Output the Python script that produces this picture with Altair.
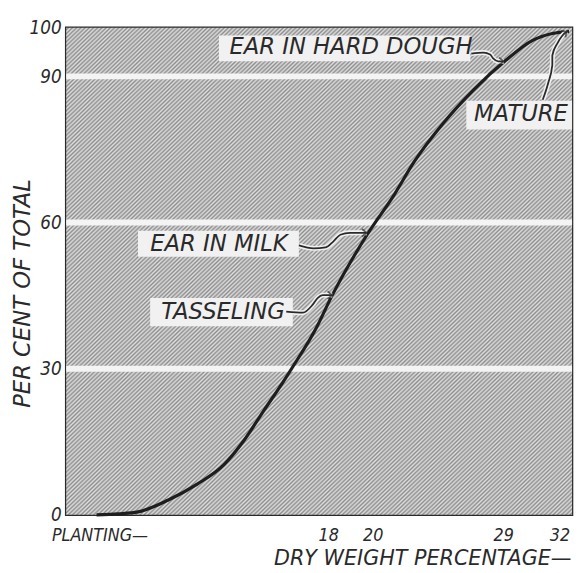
import altair as alt
import pandas as pd

# ---- data ----
stage = [6, 10.3, 14.2, 20.1, 25.9, 31.2, 35.1, 39.0, 42.9, 44.8, 49.3, 52.6,
         59.6, 64.9, 68.8, 74.7, 80.5, 86.9, 92.2, 96.1, 99.4]
percent = [0, 0.2, 0.6, 3.0, 6.3, 10.3, 15.2, 21.3, 27.3, 30.4, 38.1, 45.1,
           57.7, 65.8, 72.5, 80.6, 87.2, 93.3, 97.4, 98.8, 99.2]

domain = [0, 100]
x_tick_pos = [0, 51.8, 60.6, 86.4, 97.5]
x_tick_labels = ["PLANTING\u2014", "18", "20", "29", "32"]
y_ticks = [0, 30, 60, 90, 100]
grid_lines = [30, 60, 90]

ann_labels = ["EAR IN HARD DOUGH", "MATURE", "EAR IN MILK", "TASSELING"]
ann_x = [56.3, 89.9, 30.2, 31.0]
ann_y = [96.0, 82.2, 55.6, 41.7]
box_x1 = [30.2, 79.1, 14.2, 16.6]
box_x2 = [79.9, 100.0, 46.0, 44.8]
box_y1 = [93.1, 79.1, 53.0, 38.7]
box_y2 = [98.4, 85.0, 58.3, 44.5]

arrow_id = ["dough"] * 6 + ["mature"] * 7 + ["milk"] * 7 + ["tassel"] * 6
arrow_x = [80.1, 82.5, 83.8, 84.4, 85.4, 86.5,
           94.2, 95.3, 96.1, 96.1, 97.1, 98.1, 99.0,
           46.0, 48.9, 51.3, 52.8, 54.2, 56.1, 59.4,
           43.5, 46.8, 48.7, 49.7, 50.7, 52.6]
arrow_y = [94.7, 94.9, 94.5, 93.7, 93.1, 93.1,
           85.2, 88.7, 92.3, 94.3, 96.8, 98.4, 99.2,
           55.3, 54.7, 54.9, 56.1, 57.5, 57.9, 57.9,
           41.7, 41.5, 43.1, 44.5, 45.1, 45.1]
head_x = [86.5, 99.0, 59.4, 52.6]
head_y = [93.1, 99.2, 57.9, 45.1]
head_angle = [0, 325, 0, 0]

FONT_NARROW = "DejaVu Sans Condensed, Liberation Sans Narrow, DejaVu Sans"
FONT = "DejaVu Sans"
INK = "#2a2a2a"

curve_df = pd.DataFrame({"stage": stage, "percent": percent})
grid_df = pd.DataFrame({"g": grid_lines})
ann_df = pd.DataFrame({"label": ann_labels, "x": ann_x, "y": ann_y,
                       "x1": box_x1, "x2": box_x2, "y1": box_y1, "y2": box_y2})
arrow_df = pd.DataFrame({"id": arrow_id, "x": arrow_x, "y": arrow_y,
                         "order": list(range(len(arrow_x)))})
head_df = pd.DataFrame({"x": head_x, "y": head_y, "angle": head_angle})
bg_df = pd.DataFrame({"x1": [domain[0]], "x2": [domain[1]],
                      "y1": [domain[0]], "y2": [domain[1]]})

xs = alt.Scale(domain=domain, nice=False, zero=False)
ys = alt.Scale(domain=domain, nice=False, zero=False)

label_expr = " : ".join(
    f"datum.value == {p} ? '{t}'" for p, t in zip(x_tick_pos, x_tick_labels)
) + " : ''"

x_axis = alt.Axis(
    values=x_tick_pos, labelExpr=label_expr, title="DRY WEIGHT PERCENTAGE\u2014",
    grid=False, domain=False, ticks=False, labelFlush=True,
    labelOffset={"condition": {"test": "datum.value == 0", "value": -15}, "value": 0},
    labelPadding=12, labelFontSize=18, labelFont=FONT_NARROW, labelFontStyle="italic",
    labelColor=INK, labelOverlap=False,
    titleFont=FONT, titleFontSize=21, titleFontStyle="italic", titleFontWeight="normal",
    titleColor=INK, titleX=512, titleY=44, titleAlign="right", titleBaseline="middle",
)
y_axis = alt.Axis(
    values=y_ticks, title="PER CENT OF TOTAL", grid=False, domain=False,
    ticks=False, labelPadding=5, labelFontSize=19, labelFont=FONT_NARROW,
    labelFontStyle="italic", labelColor=INK,
    titleFont=FONT, titleFontSize=23, titleFontStyle="italic", titleFontWeight="normal",
    titleColor=INK, titleX=-44, titleY=269, titleBaseline="middle",
)

stops = [alt.GradientStop(offset=i / 480, color=("#8e8e8e" if i % 2 else "#dedede"))
         for i in range(481)]
hatch = alt.LinearGradient(gradient="linear", stops=stops, x1=0, y1=0, x2=1, y2=1)

bg = alt.Chart(bg_df).mark_rect(color=hatch).encode(
    x=alt.X("x1:Q", scale=xs, axis=x_axis), x2="x2:Q",
    y=alt.Y("y1:Q", scale=ys, axis=y_axis), y2="y2:Q",
)

grid = alt.Chart(grid_df).mark_rule(color="#f4f4f4", strokeWidth=6).encode(
    y=alt.Y("g:Q", scale=ys)
)

curve = alt.Chart(curve_df).mark_line(
    color="#1e1e1e", strokeWidth=3.2, interpolate="monotone"
).encode(
    x=alt.X("stage:Q", scale=xs),
    y=alt.Y("percent:Q", scale=ys),
)

boxes = alt.Chart(ann_df).mark_rect(fill="#f1f1f1").encode(
    x=alt.X("x1:Q", scale=xs), x2="x2:Q",
    y=alt.Y("y1:Q", scale=ys), y2="y2:Q",
)

arrow_halo = alt.Chart(arrow_df).mark_line(
    color="#f1f1f1", strokeWidth=5, interpolate="monotone"
).encode(
    x=alt.X("x:Q", scale=xs), y=alt.Y("y:Q", scale=ys),
    detail="id:N", order="order:Q",
)
arrows = alt.Chart(arrow_df).mark_line(
    color=INK, strokeWidth=1.8, interpolate="monotone"
).encode(
    x=alt.X("x:Q", scale=xs), y=alt.Y("y:Q", scale=ys),
    detail="id:N", order="order:Q",
)
heads = alt.Chart(head_df).mark_point(
    shape="M-1,-0.8L0,0L-1,0.8", filled=False, stroke=INK, strokeWidth=1.8, size=90
).encode(
    x=alt.X("x:Q", scale=xs), y=alt.Y("y:Q", scale=ys),
    angle=alt.Angle("angle:Q", scale=None),
)

texts = alt.Chart(ann_df).mark_text(
    font=FONT, fontSize=23, fontStyle="italic", color=INK
).encode(
    x=alt.X("x:Q", scale=xs), y=alt.Y("y:Q", scale=ys),
    text="label:N",
)

chart = alt.layer(bg, grid, boxes, curve, arrow_halo, arrows, heads, texts).properties(
    width=513, height=494,
    autosize=alt.AutoSizeParams(type="none"),
    padding={"left": 59, "top": 16, "right": 4, "bottom": 55},
    background="white",
).configure_view(
    stroke="#2a2a2a", strokeWidth=2.5
)

chart.save("out.html", embed_options={"renderer": "svg", "actions": False})
